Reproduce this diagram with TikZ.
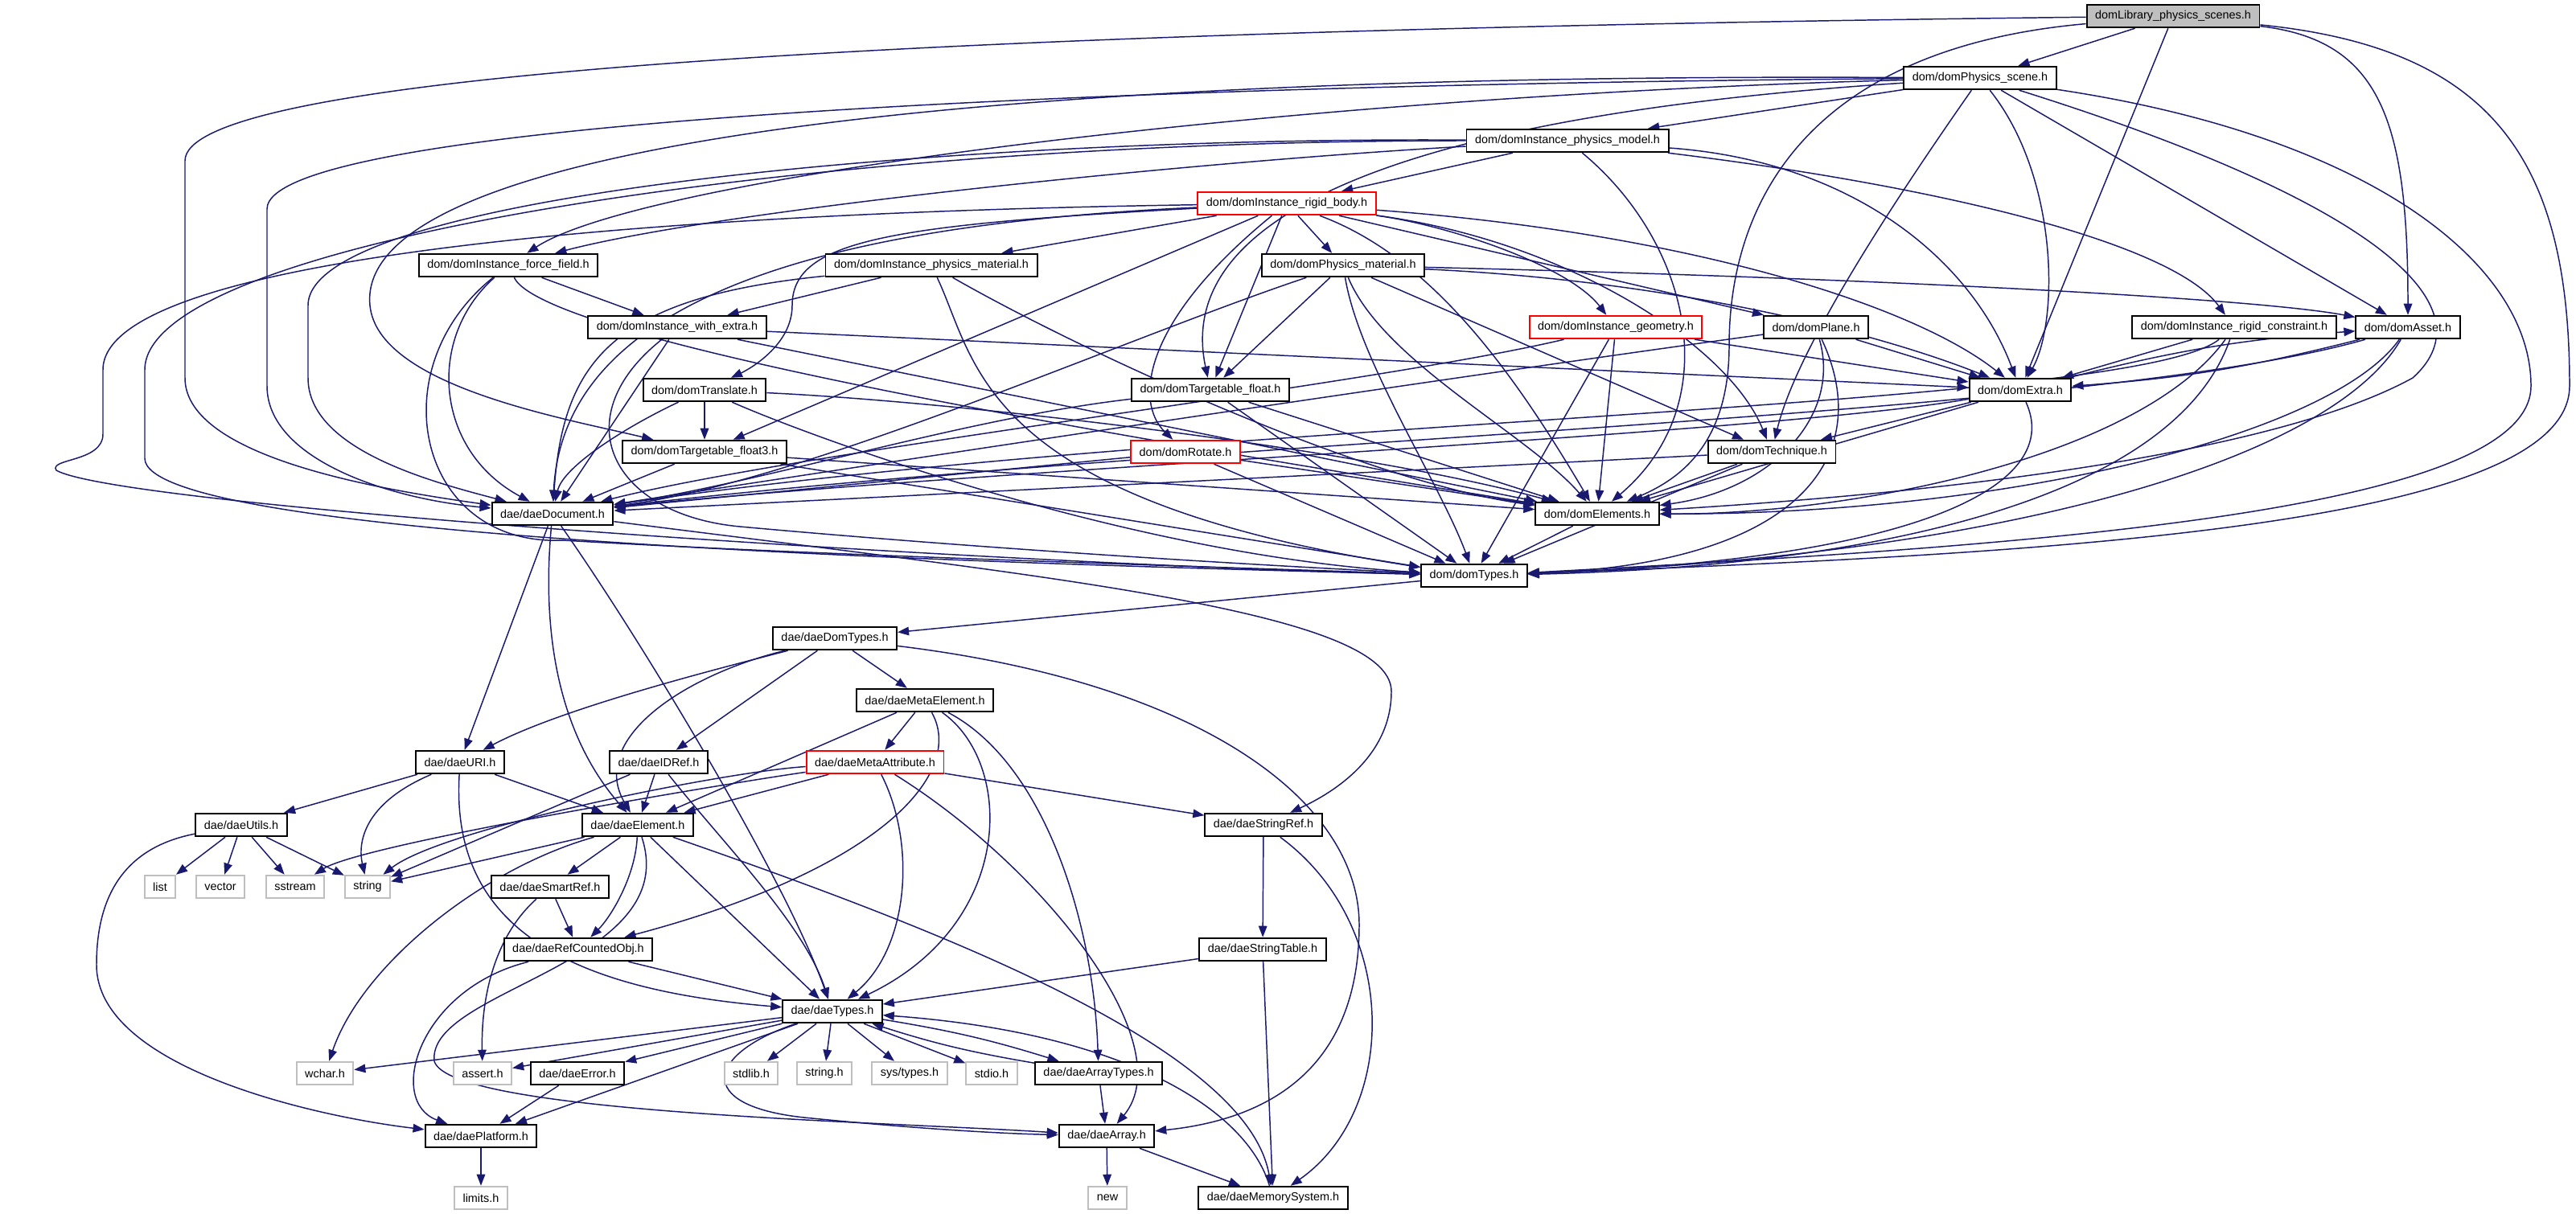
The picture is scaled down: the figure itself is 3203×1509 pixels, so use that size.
\documentclass[tikz,border=0pt]{standalone}
\usepackage{fontspec}
\setmainfont{Liberation Sans}
\usepackage{tikz}
\usetikzlibrary{arrows.meta}
\definecolor{edgeblue}{HTML}{191970}
\definecolor{leafgray}{HTML}{BFBFBF}
\pgfdeclarelayer{edges}
\pgfsetlayers{edges,main}

\begin{document}
\begin{tikzpicture}[x=0.01cm,y=0.01cm,>={Triangle[length=4pt,width=3pt]},
hdr/.style={draw=black,line width=0.55pt,fill=white,font=\fontsize{4.1}{5}\selectfont,inner xsep=0.105cm,inner ysep=0pt,minimum height=0.285cm},
sys/.style={hdr,draw=leafgray},
cut/.style={hdr,draw=red},
inc/.style={->,draw=edgeblue,line width=0.42pt}]
\useasboundingbox(0,0)rectangle(3203,-1509);
\node[hdr,fill=leafgray](lps)at(2702,-20){domLibrary\_physics\_scenes.h};
\node[hdr](ps)at(2462,-97){dom/domPhysics\_scene.h};
\node[hdr](pm)at(1949,-175){dom/domInstance\_physics\_model.h};
\node[cut](rb)at(1600,-253){dom/domInstance\_rigid\_body.h};
\node[hdr](ff)at(632,-330){dom/domInstance\_force\_field.h};
\node[hdr](ipm)at(1158,-330){dom/domInstance\_physics\_material.h};
\node[hdr](pmat)at(1670,-330){dom/domPhysics\_material.h};
\node[hdr](wex)at(842,-407){dom/domInstance\_with\_extra.h};
\node[cut](geo)at(2009,-407){dom/domInstance\_geometry.h};
\node[hdr](plane)at(2258,-407){dom/domPlane.h};
\node[hdr](rc)at(2778,-407){dom/domInstance\_rigid\_constraint.h};
\node[hdr](asset)at(2994,-407){dom/domAsset.h};
\node[hdr](trans)at(876,-485){dom/domTranslate.h};
\node[hdr](tf)at(1505,-485){dom/domTargetable\_float.h};
\node[hdr](extra)at(2512,-485){dom/domExtra.h};
\node[hdr](tf3)at(876,-562){dom/domTargetable\_float3.h};
\node[cut](rot)at(1474,-562){dom/domRotate.h};
\node[hdr](tech)at(2203,-562){dom/domTechnique.h};
\node[hdr](doc)at(687,-639){dae/daeDocument.h};
\node[hdr](elem)at(1986,-639){dom/domElements.h};
\node[hdr](dtypes)at(1833,-716){dom/domTypes.h};
\node[hdr](ddt)at(1038,-794){dae/daeDomTypes.h};
\node[hdr](meta)at(1150,-871){dae/daeMetaElement.h};
\node[hdr](uri)at(572,-948){dae/daeURI.h};
\node[hdr](idref)at(819,-948){dae/daeIDRef.h};
\node[cut](mattr)at(1088,-948){dae/daeMetaAttribute.h};
\node[hdr](utils)at(300,-1026){dae/daeUtils.h};
\node[hdr](elt)at(793,-1026){dae/daeElement.h};
\node[hdr](sref)at(1571,-1026){dae/daeStringRef.h};
\node[sys](list)at(199,-1103){list};
\node[sys](vector)at(274,-1103){vector};
\node[sys](sstream)at(367,-1103){sstream};
\node[sys](string)at(457,-1103){string};
\node[hdr](smart)at(684,-1103){dae/daeSmartRef.h};
\node[hdr](rco)at(719,-1181){dae/daeRefCountedObj.h};
\node[hdr](stab)at(1570,-1181){dae/daeStringTable.h};
\node[hdr](types)at(1035,-1258){dae/daeTypes.h};
\node[sys](wchar)at(404,-1335){wchar.h};
\node[sys](assert)at(600,-1335){assert.h};
\node[hdr](err)at(718,-1335){dae/daeError.h};
\node[sys](stdlib)at(934,-1335){stdlib.h};
\node[sys](strh)at(1025,-1335){string.h};
\node[sys](systypes)at(1131,-1335){sys/types.h};
\node[sys](stdio)at(1233,-1335){stdio.h};
\node[hdr](atypes)at(1366,-1335){dae/daeArrayTypes.h};
\node[hdr](plat)at(598,-1413){dae/daePlatform.h};
\node[hdr](arr)at(1376,-1413){dae/daeArray.h};
\node[sys](limits)at(598,-1490){limits.h};
\node[sys](new)at(1377,-1490){new};
\node[hdr](mem)at(1583,-1490){dae/daeMemorySystem.h};
\begin{pgfonlayer}{edges}
\draw[inc](lps)--(ps);
\draw[inc](lps)--(extra);
\draw[inc](lps)..controls(2960,-50)and(2994,-150)..(asset);
\draw[inc](lps)..controls(3100,-60)and(3195,-200)..(3195,-480)..controls(3195,-660)and(2500,-690)..(dtypes);
\draw[inc](lps)..controls(1000,-40)and(230,-100)..(230,-200)--(230,-470)..controls(230,-570)and(480,-610)..(doc);
\draw[inc](lps)..controls(2250,-60)and(2150,-250)..(2150,-430)..controls(2150,-560)and(2080,-600)..(elem);
\draw[inc](ps)..controls(1400,-105)and(332,-150)..(332,-260)--(332,-480)..controls(332,-570)and(480,-620)..(doc);
\draw[inc](ps)..controls(1600,-120)and(800,-220)..(ff);
\draw[inc](ps)--(pm);
\draw[inc](ps)..controls(1200,-90)and(440,-180)..(460,-380)..controls(470,-480)and(700,-520)..(tf3);
\draw[inc](ps)..controls(1800,-140)and(1455,-250)..(tf);
\draw[inc](ps)..controls(2320,-300)and(2230,-450)..(tech);
\draw[inc](ps)..controls(2560,-220)and(2560,-400)..(extra);
\draw[inc](ps)--(asset);
\draw[inc](ps)..controls(2950,-250)and(3100,-380)..(3000,-470)..controls(2800,-580)and(2300,-620)..(elem);
\draw[inc](ps)..controls(2950,-170)and(3147,-330)..(3147,-480)..controls(3147,-640)and(2500,-680)..(dtypes);
\draw[inc](pm)--(rb);
\draw[inc](pm)..controls(2400,-230)and(2700,-300)..(rc);
\draw[inc](pm)..controls(2300,-200)and(2450,-320)..(extra);
\draw[inc](pm)..controls(2100,-300)and(2150,-500)..(elem);
\draw[inc](pm)..controls(1500,-200)and(900,-260)..(ff);
\draw[inc](pm)..controls(1200,-170)and(383,-240)..(383,-380)--(383,-470)..controls(383,-560)and(540,-600)..(doc);
\draw[inc](pm)..controls(1000,-175)and(180,-300)..(180,-460)--(180,-570)..controls(180,-670)and(1200,-700)..(dtypes);
\draw[inc](rb)--(pmat);
\draw[inc](rb)--(tf);
\draw[inc](rb)--(tf3);
\draw[inc](rb)..controls(1420,-400)and(1410,-500)..(rot);
\draw[inc](rb)..controls(1100,-280)and(985,-300)..(985,-380)..controls(985,-430)and(930,-460)..(trans);
\draw[inc](rb)--(ipm);
\draw[inc](rb)..controls(1800,-280)and(1950,-330)..(geo);
\draw[inc](rb)--(plane);
\draw[inc](rb)..controls(2100,-290)and(2380,-380)..(extra);
\draw[inc](rb)..controls(1950,-300)and(2150,-430)..(tech);
\draw[inc](rb)..controls(1780,-320)and(1880,-460)..(elem);
\draw[inc](rb)..controls(1000,-280)and(700,-380)..(doc);
\draw[inc](rb)..controls(800,-265)and(128,-320)..(128,-460)--(128,-540)..controls(128,-575)and(60,-570)..(70,-585)..controls(150,-630)and(1200,-700)..(dtypes);
\draw[inc](ff)--(wex);
\draw[inc](ff)..controls(530,-420)and(540,-560)..(doc);
\draw[inc](ff)..controls(470,-460)and(520,-680)..(700,-672)..controls(1000,-690)and(1500,-705)..(dtypes);
\draw[inc](ff)..controls(680,-430)and(1500,-560)..(elem);
\draw[inc](ipm)--(wex);
\draw[inc](ipm)..controls(760,-370)and(700,-450)..(doc);
\draw[inc](ipm)..controls(1215,-450)and(1215,-620)..(dtypes);
\draw[inc](ipm)..controls(1350,-440)and(1700,-600)..(elem);
\draw[inc](pmat)--(tf);
\draw[inc](pmat)..controls(1400,-420)and(1000,-600)..(doc);
\draw[inc](pmat)..controls(1690,-450)and(1790,-600)..(dtypes);
\draw[inc](pmat)..controls(1720,-450)and(1900,-540)..(elem);
\draw[inc](pmat)--(tech);
\draw[inc](pmat)..controls(2300,-345)and(2800,-370)..(asset);
\draw[inc](pmat)..controls(2100,-350)and(2350,-420)..(extra);
\draw[inc](wex)--(doc);
\draw[inc](wex)..controls(700,-520)and(760,-640)..(920,-655)..controls(1250,-685)and(1600,-705)..(dtypes);
\draw[inc](wex)--(elem);
\draw[inc](wex)--(extra);
\draw[inc](geo)..controls(1700,-480)and(1000,-560)..(doc);
\draw[inc](geo)--(elem);
\draw[inc](geo)--(extra);
\draw[inc](geo)--(dtypes);
\draw[inc](plane)--(extra);
\draw[inc](plane)..controls(1800,-470)and(1200,-560)..(doc);
\draw[inc](plane)..controls(2290,-520)and(2200,-610)..(elem);
\draw[inc](plane)..controls(2330,-560)and(2250,-700)..(dtypes);
\draw[inc](rc)--(extra);
\draw[inc](rc)..controls(2650,-510)and(1500,-520)..(doc);
\draw[inc](rc)..controls(2660,-570)and(2300,-640)..(elem);
\draw[inc](rc)..controls(2700,-630)and(2300,-705)..(dtypes);
\draw[inc](asset)to[bend left=5](extra);
\draw[inc](extra)to[bend left=5](asset);
\draw[inc](asset)..controls(2600,-520)and(1500,-545)..(doc);
\draw[inc](asset)..controls(2900,-540)and(2500,-640)..(elem);
\draw[inc](asset)..controls(2900,-570)and(2500,-690)..(dtypes);
\draw[inc](extra)--(tech);
\draw[inc](extra)..controls(2200,-540)and(1200,-585)..(doc);
\draw[inc](extra)--(elem);
\draw[inc](extra)..controls(2565,-600)and(2400,-695)..(dtypes);
\draw[inc](trans)--(tf3);
\draw[inc](trans)..controls(780,-530)and(700,-580)..(doc);
\draw[inc](trans)..controls(1200,-500)and(1700,-560)..(elem);
\draw[inc](trans)..controls(1000,-540)and(1400,-690)..(dtypes);
\draw[inc](tf)..controls(1200,-520)and(950,-600)..(doc);
\draw[inc](tf)--(elem);
\draw[inc](tf)--(dtypes);
\draw[inc](tf3)--(doc);
\draw[inc](tf3)--(elem);
\draw[inc](tf3)--(dtypes);
\draw[inc](rot)--(doc);
\draw[inc](rot)--(elem);
\draw[inc](rot)--(dtypes);
\draw[inc](tech)--(doc);
\draw[inc](tech)--(elem);
\draw[inc](tech)--(dtypes);
\draw[inc](elem)--(dtypes);
\draw[inc](dtypes)--(ddt);
\draw[inc](doc)--(uri);
\draw[inc](doc)..controls(672,-800)and(700,-920)..(elt);
\draw[inc](doc)..controls(800,-800)and(980,-1100)..(types);
\draw[inc](doc)..controls(1300,-717)and(1730,-760)..(1730,-860)..controls(1730,-940)and(1660,-985)..(sref);
\draw[inc](ddt)--(meta);
\draw[inc](ddt)..controls(900,-830)and(700,-880)..(uri);
\draw[inc](ddt)..controls(850,-840)and(730,-920)..(elt);
\draw[inc](ddt)--(idref);
\draw[inc](ddt)..controls(1500,-850)and(1690,-1000)..(1690,-1150)..controls(1690,-1310)and(1600,-1390)..(arr);
\draw[inc](meta)--(mattr);
\draw[inc](meta)--(elt);
\draw[inc](meta)..controls(1200,-960)and(1100,-1080)..(rco);
\draw[inc](meta)..controls(1262,-950)and(1262,-1150)..(types);
\draw[inc](meta)..controls(1300,-950)and(1360,-1150)..(atypes);
\draw[inc](mattr)--(sref);
\draw[inc](mattr)..controls(900,-960)and(550,-1030)..(string);
\draw[inc](mattr)..controls(900,-975)and(450,-1050)..(sstream);
\draw[inc](mattr)--(elt);
\draw[inc](mattr)..controls(1140,-1050)and(1130,-1180)..(types);
\draw[inc](mattr)..controls(1300,-1080)and(1470,-1300)..(arr);
\draw[inc](uri)--(utils);
\draw[inc](uri)..controls(450,-1000)and(445,-1050)..(string);
\draw[inc](uri)--(elt);
\draw[inc](uri)..controls(560,-1150)and(700,-1230)..(types);
\draw[inc](idref)--(string);
\draw[inc](idref)--(elt);
\draw[inc](idref)..controls(900,-1050)and(1000,-1150)..(types);
\draw[inc](utils)--(list);
\draw[inc](utils)--(vector);
\draw[inc](utils)--(sstream);
\draw[inc](utils)--(string);
\draw[inc](utils)..controls(150,-1055)and(120,-1120)..(120,-1200)..controls(120,-1330)and(400,-1390)..(plat);
\draw[inc](elt)--(string);
\draw[inc](elt)--(smart);
\draw[inc](elt)..controls(790,-1090)and(760,-1140)..(rco);
\draw[inc](elt)--(types);
\draw[inc](elt)..controls(600,-1080)and(450,-1200)..(wchar);
\draw[inc](elt)..controls(850,-1200)and(530,-1230)..(540,-1320)..controls(560,-1385)and(1100,-1395)..(arr);
\draw[inc](elt)..controls(1150,-1150)and(1550,-1300)..(mem);
\draw[inc](sref)--(stab);
\draw[inc](sref)..controls(1740,-1150)and(1740,-1380)..(mem);
\draw[inc](smart)--(rco);
\draw[inc](smart)..controls(620,-1160)and(598,-1230)..(assert);
\draw[inc](rco)--(types);
\draw[inc](rco)..controls(520,-1230)and(480,-1370)..(plat);
\draw[inc](stab)--(types);
\draw[inc](stab)--(mem);
\draw[inc](types)--(wchar);
\draw[inc](types)--(assert);
\draw[inc](types)--(err);
\draw[inc](types)--(stdlib);
\draw[inc](types)--(strh);
\draw[inc](types)--(systypes);
\draw[inc](types)--(stdio);
\draw[inc](types)to[bend left=4](atypes);
\draw[inc](atypes)to[bend left=4](types);
\draw[inc](types)--(plat);
\draw[inc](types)..controls(880,-1310)and(860,-1375)..(1000,-1390)..controls(1150,-1405)and(1250,-1410)..(arr);
\draw[inc](mem)..controls(1550,-1380)and(1400,-1285)..(types);
\draw[inc](err)--(plat);
\draw[inc](atypes)--(arr);
\draw[inc](arr)--(new);
\draw[inc](arr)--(mem);
\draw[inc](plat)--(limits);
\end{pgfonlayer}
\end{tikzpicture}
\end{document}
